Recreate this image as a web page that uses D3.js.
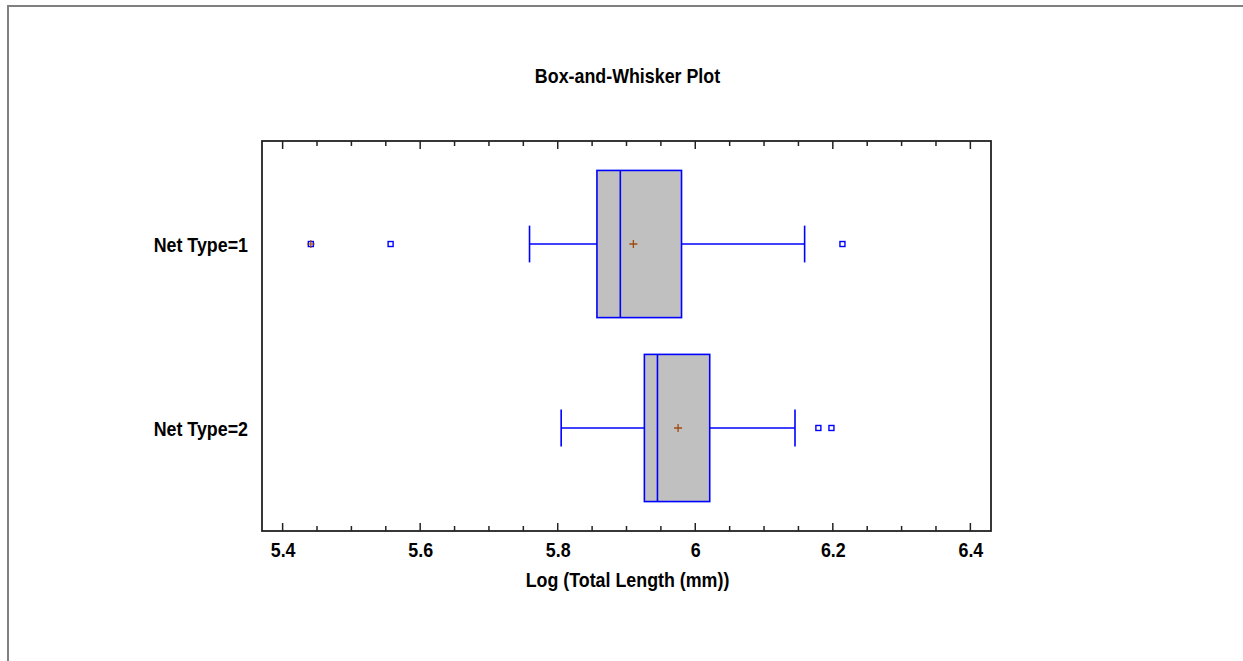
<!DOCTYPE html>
<html><head><meta charset="utf-8">
<script src="https://cdn.jsdelivr.net/npm/d3@7"></script>
<style>
body{margin:0;background:#fff;}
text{font-family:'Liberation Sans',Arial,sans-serif;font-weight:bold;fill:#000;}
</style></head>
<body><svg id="chart" width="1243" height="661"></svg>
<script>
const categories = ["Net Type=1", "Net Type=2"];
const q1Values = [5.857, 5.926];
const medianValues = [5.891, 5.945];
const q3Values = [5.980, 6.021];
const meanValues = [5.910, 5.975];
const whiskerLow = [5.759, 5.805];
const whiskerHigh = [6.159, 6.145];
const outliers1 = [5.441, 5.557, 6.214];
const outliers2 = [6.179, 6.198];
const farOutliers1 = [5.441];
const farOutliers2 = [];
const xTickValues = [5.4, 5.6, 5.8, 6.0, 6.2, 6.4];
const xTickLabels = ["5.4", "5.6", "5.8", "6", "6.2", "6.4"];
const xDomain = [5.37, 6.43];
const titleText = "Box-and-Whisker Plot";
const xAxisTitle = "Log (Total Length (mm))";

const outliers = [outliers1, outliers2];
const farOutliers = [farOutliers1, farOutliers2];

const svg = d3.select("#chart");
const W = 1243, H = 661;
const plot = {left: 262, right: 991, top: 141, bottom: 531};
const FS = "21px", SX = 0.85;

// outer frame
svg.append("rect").attr("x", 8).attr("y", 6).attr("width", W).attr("height", H)
  .attr("fill", "none").attr("stroke", "#808080").attr("stroke-width", 2);

const x = d3.scaleLinear().domain(xDomain).range([plot.left, plot.right]);
const y = d3.scalePoint().domain(categories).range([plot.top, plot.bottom]).padding(0.56);
const step = y.step();
const boxH = step * 0.8, capH = step * 0.2;

function condensedText(tx, ty, str, anchor) {
  return svg.append("text")
    .attr("transform", `translate(${tx},${ty}) scale(${SX},1)`)
    .attr("text-anchor", anchor).style("font-size", FS).text(str);
}

// title
condensedText((plot.left + plot.right) / 2 + 1, 83, titleText, "middle");

// minor + major ticks (top and bottom)
const minorTicks = d3.range(0, 21).map(i => 5.4 + i * 0.05).filter(v => v <= 6.41);
const g = svg.append("g");
minorTicks.forEach(v => {
  const major = xTickValues.some(t => Math.abs(t - v) < 1e-6);
  const len = major ? 8 : 5;
  g.append("line").attr("x1", x(v)).attr("x2", x(v)).attr("y1", plot.bottom).attr("y2", plot.bottom - len)
    .attr("stroke", "#222").attr("stroke-width", 1.5);
  g.append("line").attr("x1", x(v)).attr("x2", x(v)).attr("y1", plot.top).attr("y2", plot.top + len)
    .attr("stroke", "#222").attr("stroke-width", 1.5);
});
// tick labels via axis
const axisG = svg.append("g").attr("transform", `translate(0,${plot.bottom})`)
  .call(d3.axisBottom(x).tickValues(xTickValues).tickSize(0).tickPadding(10)
    .tickFormat((d, i) => xTickLabels[i]));
axisG.select(".domain").remove();
axisG.attr("font-family", null).attr("font-size", null);
axisG.selectAll("text").style("font-size", FS).attr("dy", "0.71em").attr("y", 11)
  .attr("transform", `scale(${SX},1)`);

condensedText((plot.left + plot.right) / 2 + 1, 587, xAxisTitle, "middle");

// category labels
categories.forEach(c => {
  svg.append("text").attr("transform", `translate(248,${y(c)}) scale(${SX},1)`)
    .attr("dy", "0.36em").attr("text-anchor", "end").style("font-size", FS).text(c);
});

// plot frame
svg.append("rect").attr("x", plot.left).attr("y", plot.top)
  .attr("width", plot.right - plot.left).attr("height", plot.bottom - plot.top)
  .attr("fill", "none").attr("stroke", "#222").attr("stroke-width", 1.8);

const blue = "#0000ff", meanColor = "#a04a10";
categories.forEach((c, i) => {
  const cy = y(c);
  const bg = svg.append("g");
  bg.append("line").attr("x1", x(whiskerLow[i])).attr("x2", x(q1Values[i])).attr("y1", cy).attr("y2", cy)
    .attr("stroke", blue).attr("stroke-width", 1.5);
  bg.append("line").attr("x1", x(q3Values[i])).attr("x2", x(whiskerHigh[i])).attr("y1", cy).attr("y2", cy)
    .attr("stroke", blue).attr("stroke-width", 1.5);
  [whiskerLow[i], whiskerHigh[i]].forEach(v => {
    bg.append("line").attr("x1", x(v)).attr("x2", x(v)).attr("y1", cy - capH / 2).attr("y2", cy + capH / 2)
      .attr("stroke", blue).attr("stroke-width", 1.6);
  });
  bg.append("rect").attr("x", x(q1Values[i])).attr("y", cy - boxH / 2)
    .attr("width", x(q3Values[i]) - x(q1Values[i])).attr("height", boxH)
    .attr("fill", "#c0c0c0").attr("stroke", blue).attr("stroke-width", 1.6);
  bg.append("line").attr("x1", x(medianValues[i])).attr("x2", x(medianValues[i]))
    .attr("y1", cy - boxH / 2).attr("y2", cy + boxH / 2).attr("stroke", blue).attr("stroke-width", 1.6);
  const mx = x(meanValues[i]);
  bg.append("path").attr("d", `M${mx - 4},${cy}H${mx + 4}M${mx},${cy - 4}V${cy + 4}`)
    .attr("stroke", meanColor).attr("stroke-width", 1.3).attr("fill", "none");
  outliers[i].forEach(v => {
    bg.append("rect").attr("x", x(v) - 2.5).attr("y", cy - 2.5).attr("width", 5).attr("height", 5)
      .attr("fill", "#fff").attr("stroke", blue).attr("stroke-width", 1.4);
  });
  farOutliers[i].forEach(v => {
    const fx = x(v);
    bg.append("path").attr("d", `M${fx - 4},${cy}H${fx + 4}M${fx},${cy - 4}V${cy + 4}`)
      .attr("stroke", meanColor).attr("stroke-width", 1.2).attr("fill", "none");
  });
});
</script></body></html>
